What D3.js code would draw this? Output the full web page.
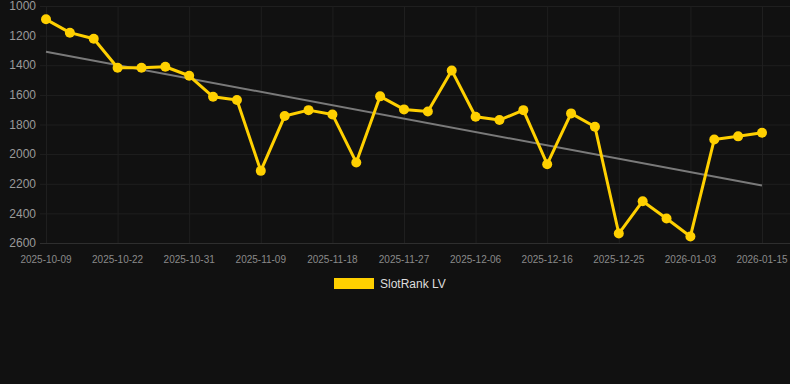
<!DOCTYPE html>
<html><head><meta charset="utf-8">
<script src="https://cdn.jsdelivr.net/npm/d3@7"></script>
<style>
html,body{margin:0;padding:0;background:#111111;}
svg{display:block;}
</style></head>
<body>
<svg id="chart" width="790" height="384"></svg>
<script>
const dates = ["2025-10-09","2025-10-13","2025-10-18","2025-10-22","2025-10-25","2025-10-28","2025-10-31",
"2025-11-03","2025-11-06","2025-11-09","2025-11-12","2025-11-15","2025-11-18","2025-11-21","2025-11-24","2025-11-27",
"2025-11-30","2025-12-03","2025-12-06","2025-12-09","2025-12-13","2025-12-16","2025-12-19","2025-12-22","2025-12-25",
"2025-12-28","2025-12-31","2026-01-03","2026-01-07","2026-01-11","2026-01-15"];
const ranks = [1090,1180,1221,1417,1417,1410,1471,1613,1635,2113,1743,1703,1732,2056,1610,1698,1712,1435,1748,1770,1703,2068,1725,1815,2536,2318,2435,2556,1901,1880,1856];
const yTicks = [1000,1200,1400,1600,1800,2000,2200,2400,2600];
const seriesName = "SlotRank LV";

const svg = d3.select("#chart");
const gridLeft = 40, gridRight = 790, plotX0 = 46, plotX1 = 762, plotTop = 6, plotBottom = 243;

const x = d3.scalePoint().domain(dates).range([plotX0, plotX1]);
const y = d3.scaleLinear().domain([1000, 2600]).range([plotTop, plotBottom]);

const labelDates = dates.filter((d,i)=> i % 3 === 0);

// horizontal grid
svg.append("g").selectAll("line").data(yTicks).join("line")
  .attr("x1", gridLeft).attr("x2", gridRight)
  .attr("y1", d=>y(d)+0.5).attr("y2", d=>y(d)+0.5)
  .attr("stroke", d => d===2600 ? "#2e2e2e" : "#1f1f1f").attr("stroke-width", 1);
// vertical grid
svg.append("g").selectAll("line").data(labelDates).join("line")
  .attr("x1", d=>x(d)+0.5).attr("x2", d=>x(d)+0.5)
  .attr("y1", plotTop).attr("y2", plotBottom)
  .attr("stroke", "#1f1f1f").attr("stroke-width", 1);

// y labels
svg.append("g").selectAll("text").data(yTicks).join("text")
  .attr("x", 36).attr("y", d=>y(d)).attr("dy","0.35em")
  .attr("text-anchor","end")
  .attr("font-family","'Liberation Sans', Arial, sans-serif").attr("font-size",12)
  .attr("fill","#9a9a9a").text(d=>d);

// x labels
svg.append("g").selectAll("text").data(labelDates).join("text")
  .attr("x", d=>x(d)).attr("y", 259).attr("dy","0.35em")
  .attr("text-anchor","middle")
  .attr("font-family","'Liberation Sans', Arial, sans-serif").attr("font-size",10)
  .attr("fill","#8a8a8a").text(d=>d);

// trend line (least squares)
const n = ranks.length;
const idx = d3.range(n);
const mx = d3.mean(idx), my = d3.mean(ranks);
const slope = d3.sum(idx, i => (i-mx)*(ranks[i]-my)) / d3.sum(idx, i => (i-mx)*(i-mx));
const icpt = my - slope*mx;
svg.append("line")
  .attr("x1", x(dates[0])).attr("y1", y(icpt))
  .attr("x2", x(dates[n-1])).attr("y2", y(icpt + slope*(n-1)))
  .attr("stroke","#7a7a7a").attr("stroke-width",2);

// series line
const gold = "#FFD000";
svg.append("path").datum(ranks)
  .attr("fill","none").attr("stroke",gold).attr("stroke-width",3).attr("stroke-linejoin","round")
  .attr("d", d3.line().x((d,i)=>x(dates[i])).y(d=>y(d)));
svg.append("g").selectAll("circle").data(ranks).join("circle")
  .attr("cx",(d,i)=>x(dates[i])).attr("cy",d=>y(d)).attr("r",5).attr("fill",gold);

// legend
svg.append("rect").attr("x",334).attr("y",278).attr("width",40).attr("height",11).attr("fill",gold);
svg.append("text").attr("x",380).attr("y",284).attr("dy","0.35em")
  .attr("font-family","'Liberation Sans', Arial, sans-serif").attr("font-size",12)
  .attr("fill","#dddddd").text(seriesName);
</script>
</body></html>
